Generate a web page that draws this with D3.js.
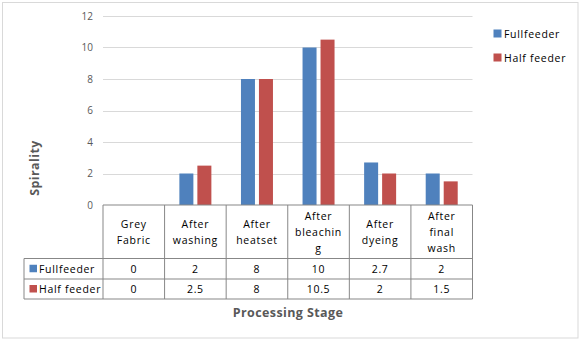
<!DOCTYPE html>
<html lang="en">
<head>
<meta charset="UTF-8">
<title>Spirality</title>
<style>
  body { margin:0; background:#fff; }
  text { font-family: 'Open Sans', sans-serif; fill:#000; }
  .tick text { fill:#595959; font-size:10px; }
  .title { font-size:12.5px; font-weight:bold; fill:#595959; letter-spacing:0.4px; }
  .cell { font-size:10.5px; letter-spacing:0.7px; }
</style>
<script src="https://d3js.org/d3.v7.min.js"></script>
</head>
<body>
<script>
var stages = ["Grey Fabric", "After washing", "After heatset", "After bleaching", "After dyeing", "After final wash"];
// header lines as they wrap in the table
var stageLines = [["Grey", "Fabric"], ["After", "washing"], ["After", "heatset"], ["After", "bleachin", "g"], ["After", "dyeing"], ["After", "final", "wash"]];
var seriesNames = ["Fullfeeder", "Half feeder"];
var fullFeeder = [0, 2, 8, 10, 2.7, 2];
var halfFeeder = [0, 2.5, 8, 10.5, 2, 1.5];
var valueLabels = [["0", "2", "8", "10", "2.7", "2"], ["0", "2.5", "8", "10.5", "2", "1.5"]];
var yTicks = [0, 2, 4, 6, 8, 10, 12];
var colors = ["#4f81bd", "#c0504d"];

var W = 581, H = 341;
var plot = { left:103, right:472.5, top:16, bottom:205 };
var tableLeft = 24;
var rowY = [205, 258.5, 279, 299];

var svg = d3.select("body").append("svg").attr("width", W).attr("height", H);

svg.append("rect").attr("x", 2.5).attr("y", 2.5).attr("width", 575.5).attr("height", 335.5)
   .attr("fill", "#fff").attr("stroke", "#d9d9d9");

var x0 = d3.scaleBand().domain(stages).range([plot.left, plot.right]);
var x1 = d3.scaleBand().domain(seriesNames).range([-16, 16]).paddingInner(0.222);
var y = d3.scaleLinear().domain([0, 12]).range([plot.bottom, plot.top]);

// gridlines
svg.append("g").selectAll("line").data(yTicks.filter(function(t){ return t > 0; })).enter().append("line")
   .attr("x1", plot.left).attr("x2", plot.right)
   .attr("y1", function(d){ return Math.round(y(d)) + 0.5; })
   .attr("y2", function(d){ return Math.round(y(d)) + 0.5; })
   .attr("stroke", "#d9d9d9");

var yAxis = svg.append("g").attr("transform", "translate(" + plot.left + ",0)")
   .call(d3.axisLeft(y).tickValues(yTicks).tickSize(0).tickPadding(10));
yAxis.select(".domain").remove();

// bars
var series = [fullFeeder, halfFeeder];
series.forEach(function(vals, si) {
  svg.append("g").selectAll("rect").data(vals).enter().append("rect")
     .attr("x", function(d, i){ return x0(stages[i]) + x0.bandwidth() / 2 + x1(seriesNames[si]); })
     .attr("width", x1.bandwidth())
     .attr("y", function(d){ return y(d); })
     .attr("height", function(d){ return y(0) - y(d); })
     .attr("fill", colors[si]);
});

// data table
var tg = svg.append("g").attr("stroke", "#878787").attr("fill", "none");
tg.append("line").attr("x1", plot.left).attr("x2", plot.right).attr("y1", rowY[0]).attr("y2", rowY[0]);
tg.append("line").attr("x1", tableLeft).attr("x2", plot.right).attr("y1", rowY[1]).attr("y2", rowY[1]);
tg.append("line").attr("x1", tableLeft).attr("x2", plot.right).attr("y1", rowY[2]).attr("y2", rowY[2]);
tg.append("line").attr("x1", tableLeft).attr("x2", plot.right).attr("y1", rowY[3]).attr("y2", rowY[3]);
tg.append("line").attr("x1", tableLeft).attr("x2", tableLeft).attr("y1", rowY[1]).attr("y2", rowY[3]);
tg.selectAll(".v").data(stages).enter().append("line")
  .attr("x1", function(d){ return x0(d); }).attr("x2", function(d){ return x0(d); })
  .attr("y1", rowY[0]).attr("y2", rowY[3]);
tg.append("line").attr("x1", plot.right).attr("x2", plot.right).attr("y1", rowY[0]).attr("y2", rowY[3]);

// header text
stages.forEach(function(s, i) {
  var lines = stageLines[i];
  var cy = (rowY[0] + rowY[1]) / 2;
  var lh = 16;
  var t = svg.append("text").attr("class", "cell").attr("text-anchor", "middle");
  lines.forEach(function(l, k) {
    t.append("tspan").attr("x", x0(s) + x0.bandwidth() / 2)
     .attr("y", cy + (k - (lines.length - 1) / 2) * lh + 4)
     .text(l);
  });
});

// value rows
valueLabels.forEach(function(row, si) {
  var cy = (rowY[si + 1] + rowY[si + 2]) / 2;
  svg.append("g").selectAll("text").data(row).enter().append("text").attr("class", "cell")
     .attr("text-anchor", "middle")
     .attr("x", function(d, i){ return x0(stages[i]) + x0.bandwidth() / 2; })
     .attr("y", cy + 4)
     .text(function(d){ return d; });
  svg.append("rect").attr("x", 29.5).attr("y", cy - 4).attr("width", 7.5).attr("height", 7.5).attr("fill", colors[si]);
  svg.append("text").attr("class", "cell").attr("x", 39).attr("y", cy + 4).text(seriesNames[si]);
});

// legend
seriesNames.forEach(function(n, i) {
  var ly = 33.5 + i * 24;
  svg.append("rect").attr("x", 493.5).attr("y", ly - 4).attr("width", 8).attr("height", 8).attr("fill", colors[i]);
  svg.append("text").attr("class", "cell").attr("x", 504).attr("y", ly + 4).text(n);
});

// axis titles
svg.append("text").attr("class", "title").attr("text-anchor", "middle")
   .attr("transform", "translate(38.5,168) rotate(-90)").text("Spirality");
svg.append("text").attr("class", "title").attr("text-anchor", "middle")
   .attr("x", 288).attr("y", 317).text("Processing Stage");
</script>
</body>
</html>
